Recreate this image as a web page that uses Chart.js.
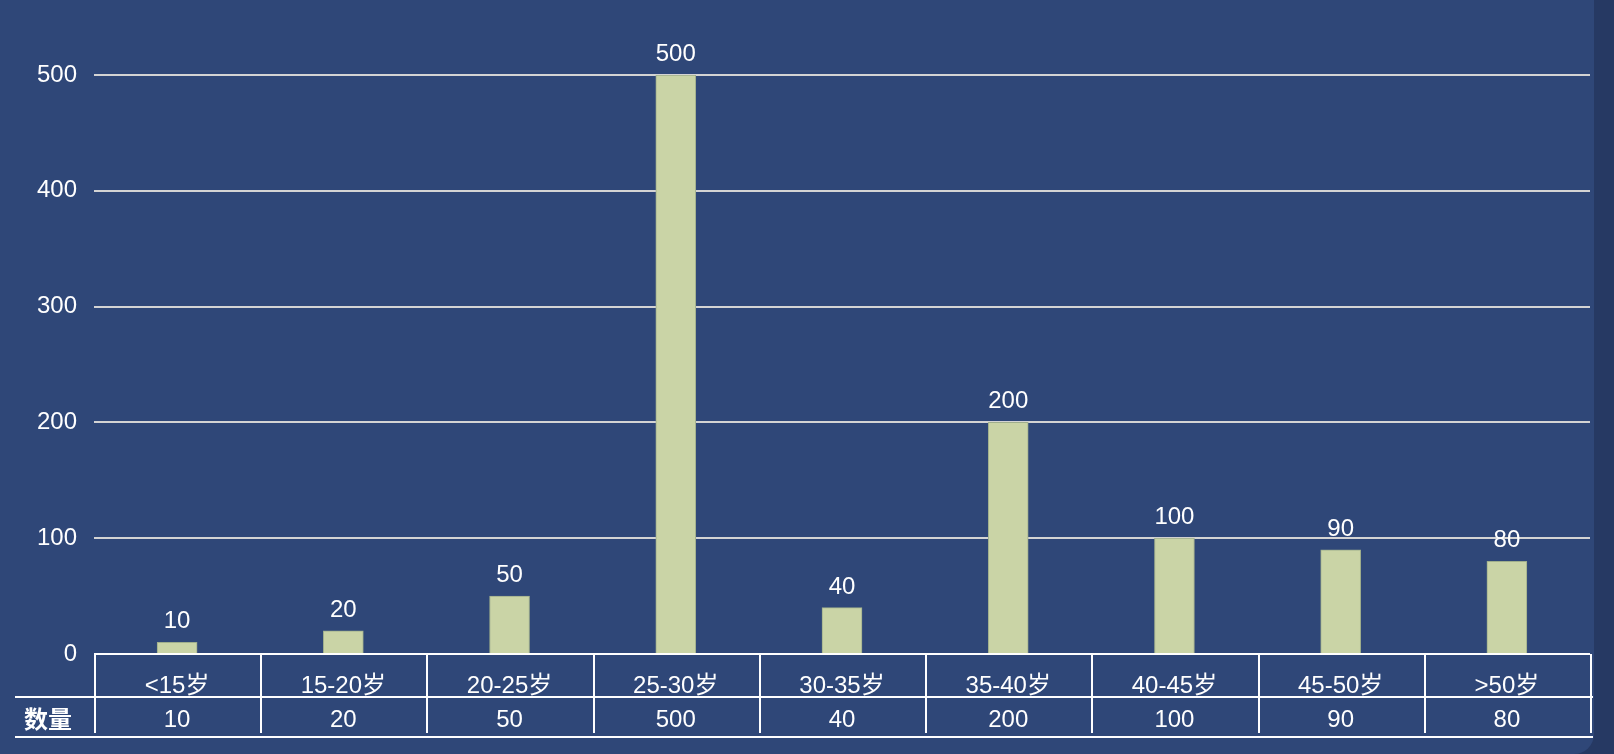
<!DOCTYPE html>
<html>
<head>
<meta charset="utf-8">
<script src="https://cdn.jsdelivr.net/npm/chart.js@4/dist/chart.umd.min.js"></script>
<style>
  body { margin: 0; background: #263963; }
  #panel { width: 1594px; height: 754px; background: #2f4778; border-bottom-right-radius: 20px; overflow: hidden; }
</style>
</head>
<body>
<div id="panel"><canvas id="myChart" width="1594" height="754"></canvas></div>
<script>
// datos del grafico
const categories = ['<15岁', '15-20岁', '20-25岁', '25-30岁', '30-35岁', '35-40岁', '40-45岁', '45-50岁', '>50岁'];
const counts = [10, 20, 50, 500, 40, 200, 100, 90, 80];
const seriesName = '数量';
const yMin = 0, yMax = 500, yStep = 100;

const FONT = '"Helvetica Neue", Helvetica, Arial, "Noto Sans CJK SC", sans-serif';

// etiquetas encima de las barras + tabla de datos debajo
const tablePlugin = {
  id: 'tablePlugin',
  afterDraw(chart) {
    const ctx = chart.ctx;
    const x = chart.scales.x;
    const area = chart.chartArea;
    const meta = chart.getDatasetMeta(0);
    const colW = (area.right - area.left) / categories.length;

    ctx.save();
    ctx.fillStyle = '#ffffff';
    ctx.font = '24px ' + FONT;
    ctx.textAlign = 'center';
    ctx.textBaseline = 'alphabetic';
    meta.data.forEach((bar, i) => {
      ctx.fillText(String(counts[i]), bar.x, bar.y - 14);
    });

    // lineas de la tabla
    ctx.strokeStyle = '#ffffff';
    ctx.lineWidth = 2;
    const rowTop = area.bottom;
    const rowMid = rowTop + 43;
    const rowBottom = rowTop + 83;
    ctx.beginPath();
    for (let i = 0; i <= categories.length; i++) {
      const px = Math.round(area.left + i * colW) + 1;
      ctx.moveTo(px, rowTop);
      ctx.lineTo(px, rowTop + 79);
    }
    ctx.moveTo(15, rowMid);
    ctx.lineTo(area.right + 3, rowMid);
    ctx.moveTo(15, rowBottom);
    ctx.lineTo(area.right + 3, rowBottom);
    ctx.stroke();

    // textos de la tabla
    categories.forEach((c, i) => {
      const cx = x.getPixelForValue(i);
      ctx.fillText(c, cx, rowMid - 4);
      ctx.fillText(String(counts[i]), cx, rowBottom - 10);
    });
    ctx.font = 'bold 24px ' + FONT;
    ctx.fillText(seriesName, 48, rowBottom - 9);
    ctx.restore();
  }
};

const ctx = document.getElementById('myChart').getContext('2d');
new Chart(ctx, {
  type: 'bar',
  data: {
    labels: categories,
    datasets: [{
      label: seriesName,
      data: counts,
      backgroundColor: '#cad4a6',
      borderColor: '#9fae8c',
      borderWidth: 1,
      barThickness: 40
    }]
  },
  options: {
    responsive: false,
    animation: false,
    layout: { padding: { top: 75, right: 4, bottom: 100, left: 0 } },
    plugins: {
      legend: { display: false },
      tooltip: { enabled: false }
    },
    scales: {
      x: {
        display: false
      },
      y: {
        min: yMin,
        max: yMax,
        afterFit: (scale) => { scale.width = 94; },
        ticks: {
          stepSize: yStep,
          padding: 17,
          color: '#ffffff',
          font: { size: 24, family: FONT }
        },
        border: { display: false },
        grid: {
          drawTicks: false,
          lineWidth: 2,
          color: (c) => c.tick && c.tick.value === 0 ? '#ffffff' : '#d4d4d4'
        }
      }
    }
  },
  plugins: [tablePlugin]
});
</script>
</body>
</html>
